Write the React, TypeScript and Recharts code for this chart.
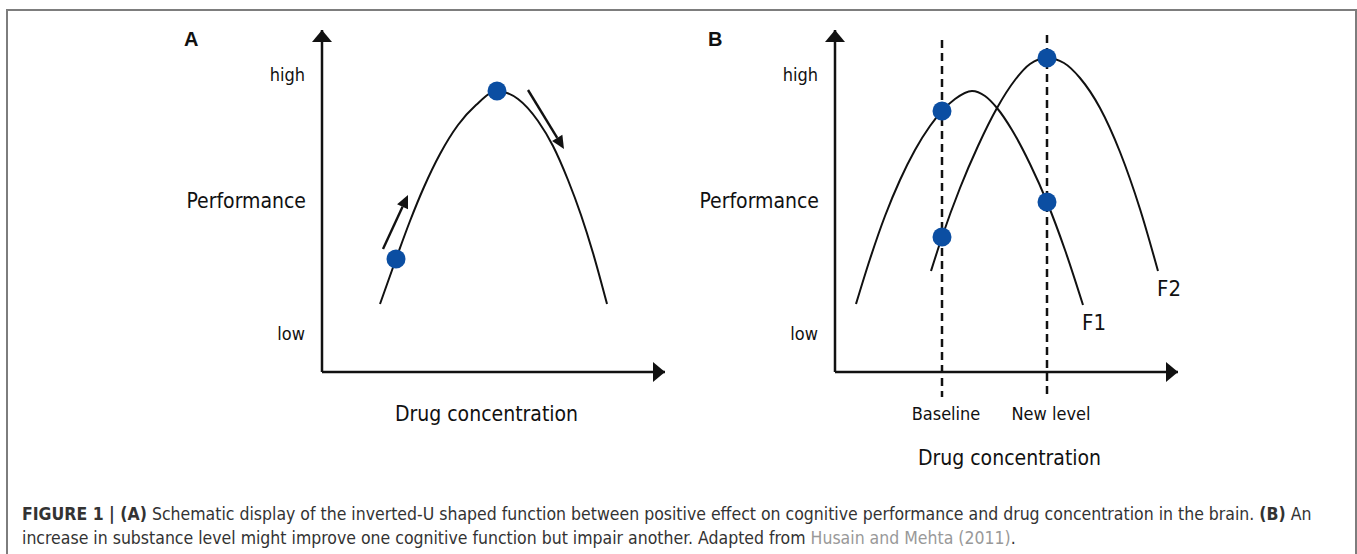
import React from "react";
import {
  ComposedChart,
  Line,
  Scatter,
  XAxis,
  YAxis,
  ReferenceLine,
  ReferenceDot,
  LabelList,
} from "recharts";

// arbitrary units: x = drug concentration, y = performance
const curveA = [
  { x: 58, y: 68 },
  { x: 74, y: 113 },
  { x: 88, y: 151 },
  { x: 102, y: 185 },
  { x: 118, y: 218 },
  { x: 136, y: 247 },
  { x: 154, y: 267 },
  { x: 175, y: 281 },
  { x: 196, y: 273 },
  { x: 216, y: 251 },
  { x: 231, y: 226 },
  { x: 246, y: 192 },
  { x: 259, y: 157 },
  { x: 271, y: 119 },
  { x: 285, y: 68 },
];
const markersA = [
  { x: 74, y: 113 },
  { x: 175, y: 281 },
];
const risingArrow = [
  { x: 61, y: 123 },
  { x: 86, y: 177 },
];
const fallingArrow = [
  { x: 206, y: 282 },
  { x: 242, y: 223 },
];

const curveF1 = [
  { x: 21, y: 68 },
  { x: 35, y: 113 },
  { x: 50, y: 156 },
  { x: 65, y: 192 },
  { x: 80, y: 222 },
  { x: 95, y: 246 },
  { x: 107, y: 261 },
  { x: 120, y: 273 },
  { x: 137, y: 281 },
  { x: 150, y: 276 },
  { x: 162, y: 264 },
  { x: 177, y: 242 },
  { x: 195, y: 208 },
  { x: 212, y: 170 },
  { x: 230, y: 122 },
  { x: 248, y: 67 },
];
const curveF2 = [
  { x: 96, y: 101 },
  { x: 107, y: 135 },
  { x: 125, y: 184 },
  { x: 143, y: 226 },
  { x: 162, y: 264 },
  { x: 180, y: 292 },
  { x: 195, y: 308 },
  { x: 212, y: 314 },
  { x: 229, y: 309 },
  { x: 245, y: 294 },
  { x: 265, y: 264 },
  { x: 285, y: 220 },
  { x: 305, y: 163 },
  { x: 323, y: 101 },
];
const markersB = [
  { x: 107, y: 261 },
  { x: 107, y: 135 },
  { x: 212, y: 314 },
  { x: 212, y: 170 },
];
const seriesB = [
  { name: "F1", points: curveF1 },
  { name: "F2", points: curveF2 },
];
const levels = [
  { x: 107, label: "Baseline", top: 332 },
  { x: 212, label: "New level", top: 337 },
];
const perfTicks = [
  { v: 38, label: "low" },
  { v: 297, label: "high" },
];

const X_MAX = 343;
const Y_MAX = 342;

const chartFont = '"Liberation Sans Narrow", "DejaVu Sans Condensed", sans-serif';
const ink = "#111";
const dotBlue = "#0b4ea2";

const perfLabel = (v: number) => perfTicks.find((t) => t.v === v)?.label ?? "";
const levelLabel = (v: number) => levels.find((l) => l.x === v)?.label ?? "";

function ArrowSegment(props: any) {
  const { x1, y1, x2, y2 } = props;
  const a = Math.atan2(y2 - y1, x2 - x1);
  const len = 13;
  const hw = 6;
  const bx = x2 - len * Math.cos(a);
  const by = y2 - len * Math.sin(a);
  const px = -Math.sin(a) * hw;
  const py = Math.cos(a) * hw;
  return (
    <g>
      <line x1={x1} y1={y1} x2={bx} y2={by} stroke={ink} strokeWidth={2.4} />
      <polygon points={`${x2},${y2} ${bx + px},${by + py} ${bx - px},${by - py}`} fill={ink} />
    </g>
  );
}

const upHead = (p: any) => (
  <polygon points={`${p.cx},${p.cy} ${p.cx - 10},${p.cy + 12} ${p.cx + 10},${p.cy + 12}`} fill={ink} />
);
const rightHead = (p: any) => (
  <polygon points={`${p.cx},${p.cy} ${p.cx - 12},${p.cy - 10} ${p.cx - 12},${p.cy + 10}`} fill={ink} />
);
const blueDot = (p: any) => <circle cx={p.cx} cy={p.cy} r={9.5} fill={dotBlue} />;

const yTitle = (props: any) => {
  const vb = props.viewBox;
  return (
    <text
      x={vb.x + vb.width - 16}
      y={vb.y + vb.height / 2}
      textAnchor="end"
      dominantBaseline="central"
      fontFamily={chartFont}
      fontSize={21}
      fill={ink}
    >
      Performance
    </text>
  );
};

const xTitle = (dy: number, dx: number) => (props: any) => {
  const vb = props.viewBox;
  return (
    <text
      x={vb.x + vb.width / 2 + dx}
      y={vb.y + dy}
      textAnchor="middle"
      dominantBaseline="central"
      fontFamily={chartFont}
      fontSize={21}
      fill={ink}
    >
      Drug concentration
    </text>
  );
};

function PerfAxis() {
  return (
    <YAxis
      type="number"
      domain={[0, Y_MAX]}
      ticks={perfTicks.map((t) => t.v)}
      tickFormatter={perfLabel}
      tickLine={false}
      tickSize={0}
      tickMargin={17}
      width={100}
      axisLine={{ stroke: ink, strokeWidth: 2.5 }}
      tick={{ fill: ink, fontSize: 18, fontFamily: chartFont }}
      label={{ content: yTitle }}
    />
  );
}

function PanelA() {
  return (
    <ComposedChart width={680} height={480} margin={{ top: 30, right: 15, bottom: 48, left: 222 }}>
      <XAxis
        type="number"
        dataKey="x"
        domain={[0, X_MAX]}
        tick={false}
        tickLine={false}
        height={60}
        axisLine={{ stroke: ink, strokeWidth: 2.5 }}
        label={{ content: xTitle(42, -7) }}
      />
      {PerfAxis()}
      <ReferenceDot x={X_MAX} y={0} shape={rightHead} ifOverflow="visible" />
      <ReferenceDot x={0} y={Y_MAX} shape={upHead} ifOverflow="visible" />
      <Line
        data={curveA}
        dataKey="y"
        type="monotone"
        stroke={ink}
        strokeWidth={2}
        dot={false}
        activeDot={false}
        isAnimationActive={false}
      />
      <ReferenceLine
        segment={[risingArrow[0], risingArrow[1]]}
        shape={ArrowSegment}
        ifOverflow="visible"
      />
      <ReferenceLine
        segment={[fallingArrow[0], fallingArrow[1]]}
        shape={ArrowSegment}
        ifOverflow="visible"
      />
      <Scatter data={markersA} dataKey="y" shape={blueDot} isAnimationActive={false} />
    </ComposedChart>
  );
}

function PanelB() {
  return (
    <ComposedChart width={677} height={480} margin={{ top: 30, right: 179, bottom: 48, left: 55 }}>
      <XAxis
        type="number"
        dataKey="x"
        domain={[0, X_MAX]}
        ticks={levels.map((l) => l.x)}
        tickFormatter={levelLabel}
        tickLine={false}
        tickSize={0}
        tickMargin={35}
        height={60}
        axisLine={{ stroke: ink, strokeWidth: 2.5 }}
        tick={{ fill: ink, fontSize: 18, fontFamily: chartFont, dx: 4 }}
        label={{ content: xTitle(86, 3) }}
      />
      {PerfAxis()}
      <ReferenceDot x={X_MAX} y={0} shape={rightHead} ifOverflow="visible" />
      <ReferenceDot x={0} y={Y_MAX} shape={upHead} ifOverflow="visible" />
      {levels.map((l) => (
        <ReferenceLine
          key={l.label}
          segment={[
            { x: l.x, y: l.top },
            { x: l.x, y: -25 },
          ]}
          stroke={ink}
          strokeWidth={2.5}
          strokeDasharray="8 5"
          ifOverflow="visible"
        />
      ))}
      {seriesB.map((s) => (
        <Line
          key={s.name}
          data={s.points}
          dataKey="y"
          name={s.name}
          type="monotone"
          stroke={ink}
          strokeWidth={2}
          dot={false}
          activeDot={false}
          isAnimationActive={false}
        >
          <LabelList
            dataKey="y"
            content={(p: any) =>
              p.index === s.points.length - 1 ? (
                <text
                  x={p.x + 11}
                  y={p.y + 17}
                  textAnchor="middle"
                  dominantBaseline="central"
                  fontFamily={chartFont}
                  fontSize={22}
                  fill={ink}
                >
                  {s.name}
                </text>
              ) : null
            }
          />
        </Line>
      ))}
      <Scatter data={markersB} dataKey="y" shape={blueDot} isAnimationActive={false} />
    </ComposedChart>
  );
}

export default function App() {
  const letter: React.CSSProperties = {
    position: "absolute",
    top: 28,
    fontFamily: '"Liberation Sans", Arial, sans-serif',
    fontWeight: "bold",
    fontSize: 20,
    color: ink,
  };
  return (
    <div
      style={{
        position: "absolute",
        left: 0,
        top: 0,
        width: 1357,
        height: 554,
        background: "#fff",
        overflow: "hidden",
      }}
    >
      <div
        style={{
          position: "absolute",
          left: 6,
          top: 9,
          width: 1347,
          height: 600,
          border: "2px solid #7d7d7d",
          borderBottom: "none",
        }}
      />
      <div style={{ position: "absolute", left: 0, top: 0 }}>
        <PanelA />
      </div>
      <div style={{ position: "absolute", left: 680, top: 0 }}>
        <PanelB />
      </div>
      <div style={{ ...letter, left: 184 }}>A</div>
      <div style={{ ...letter, left: 708 }}>B</div>
      <div
        style={{
          position: "absolute",
          left: 22,
          top: 502,
          fontFamily: chartFont,
          fontSize: 17.5,
          lineHeight: "24px",
          color: "#333",
          whiteSpace: "nowrap",
        }}
      >
        <b>FIGURE 1 | (A)</b> Schematic display of the inverted-U shaped function between positive effect on
        cognitive performance and drug concentration in the brain. <b>(B)</b> An
        <br />
        increase in substance level might improve one cognitive function but impair another. Adapted from{" "}
        <span style={{ color: "#999" }}>Husain and Mehta (2011)</span>.
      </div>
    </div>
  );
}
